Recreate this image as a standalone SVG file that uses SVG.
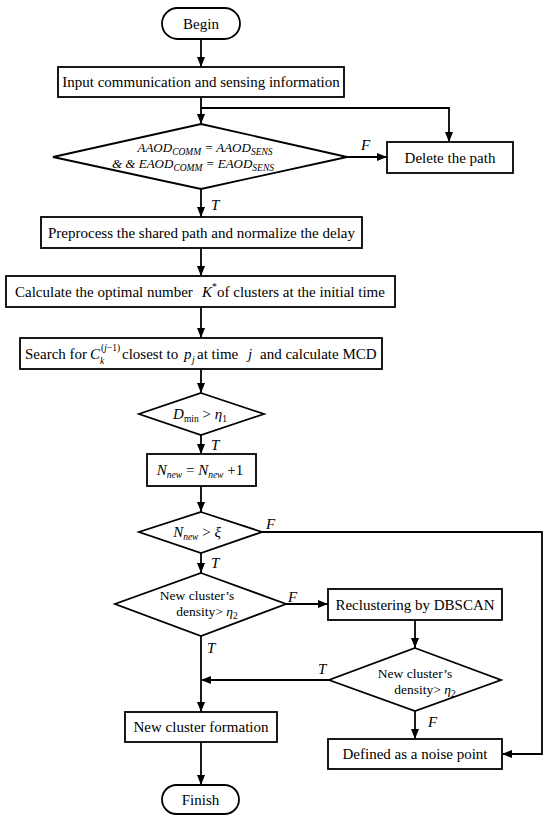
<svg xmlns="http://www.w3.org/2000/svg" width="550" height="825" viewBox="0 0 550 825">
<style>
text{font-family:'Liberation Serif','Times New Roman','DejaVu Serif',serif;font-size:15px;fill:#000}
.d{font-size:13.5px}
.m{font-size:13px}
.i{font-style:italic}
.s{font-size:9.5px}
.box{fill:#fff;stroke:#000;stroke-width:1.8}
.ln{fill:none;stroke:#000;stroke-width:1.8}
</style>
<defs>
<marker id="ah" viewBox="0 0 10 8" refX="10" refY="4" markerWidth="10" markerHeight="8" markerUnits="userSpaceOnUse" orient="auto">
<path d="M0,0 L10,4 L0,8 z" fill="#000"/>
</marker>
</defs>
<rect width="550" height="825" fill="#fff"/>
<g id="connectors">
<path class="ln" d="M201,39 V67" marker-end="url(#ah)"/>
<path class="ln" d="M201,97 V124" marker-end="url(#ah)"/>
<path class="ln" d="M201,108 H449 V142" marker-end="url(#ah)"/>
<path class="ln" d="M347,157 H387" marker-end="url(#ah)"/>
<path class="ln" d="M201,189 V217" marker-end="url(#ah)"/>
<path class="ln" d="M201,248 V276" marker-end="url(#ah)"/>
<path class="ln" d="M201,307 V338" marker-end="url(#ah)"/>
<path class="ln" d="M201,369 V393" marker-end="url(#ah)"/>
<path class="ln" d="M201,435 V454" marker-end="url(#ah)"/>
<path class="ln" d="M201,486 V512" marker-end="url(#ah)"/>
<path class="ln" d="M262,532 H542 V754 H502" marker-end="url(#ah)"/>
<path class="ln" d="M201,553 V573" marker-end="url(#ah)"/>
<path class="ln" d="M286,604 H328" marker-end="url(#ah)"/>
<path class="ln" d="M201,636 V712" marker-end="url(#ah)"/>
<path class="ln" d="M415,620 V648" marker-end="url(#ah)"/>
<path class="ln" d="M329,680 H201" marker-end="url(#ah)"/>
<path class="ln" d="M415,711 V739" marker-end="url(#ah)"/>
<path class="ln" d="M201,742 V785" marker-end="url(#ah)"/>
<text class="i" x="361" y="150">F</text>
<text class="i" x="211" y="210">T</text>
<text class="i" x="211" y="450">T</text>
<text class="i" x="266" y="529">F</text>
<text class="i" x="211" y="568">T</text>
<text class="i" x="288" y="602">F</text>
<text class="i" x="207" y="653">T</text>
<text class="i" x="318" y="674">T</text>
<text class="i" x="428" y="727">F</text>
</g>
<g id="begin">
<rect class="box" x="162" y="8" width="78" height="31" rx="15.5"/>
<text x="201" y="29" text-anchor="middle">Begin</text>
</g>
<g id="input">
<rect class="box" x="58" y="67" width="286" height="30"/>
<text x="201" y="87" text-anchor="middle">Input communication and sensing information</text>
</g>
<g id="check-aod">
<polygon class="box" points="201,124 347,157 201,189 53,157"/>
<text class="m i" x="205" y="152" text-anchor="middle">AAOD<tspan class="s" dy="3">COMM</tspan><tspan dy="-3"> = AAOD</tspan><tspan class="s" dy="3">SENS</tspan></text>
<text class="m i" x="193" y="168" text-anchor="middle">&amp; &amp; EAOD<tspan class="s" dy="3">COMM</tspan><tspan dy="-3"> = EAOD</tspan><tspan class="s" dy="3">SENS</tspan></text>
</g>
<g id="delete">
<rect class="box" x="387" y="142" width="126" height="31"/>
<text x="450" y="163" text-anchor="middle">Delete the path</text>
</g>
<g id="preprocess">
<rect class="box" x="41" y="217" width="321" height="31"/>
<text x="201.5" y="238" text-anchor="middle">Preprocess the shared path and normalize the delay</text>
</g>
<g id="calculate">
<rect class="box" x="6" y="276" width="389" height="31"/>
<text y="297"><tspan x="15">Calculate the optimal number</tspan><tspan class="i" x="202">K</tspan><tspan class="s" x="212" y="290">*</tspan><tspan x="217" y="297">of clusters at the initial time</tspan></text>
</g>
<g id="search">
<rect class="box" x="20" y="338" width="362" height="31"/>
<text y="359"><tspan x="25">Search for</tspan><tspan class="i" x="90">C</tspan><tspan class="s i" x="100" y="364">k</tspan><tspan class="s" x="101" y="351">(<tspan class="i">j</tspan>−1)</tspan><tspan x="122" y="359">closest to</tspan><tspan class="i" x="184">p</tspan><tspan class="s i" x="192" y="363">j</tspan><tspan x="197" y="359">at time</tspan><tspan class="i" x="248">j</tspan><tspan x="260">and calculate MCD</tspan></text>
</g>
<g id="dmin">
<polygon class="box" points="201,393 264,414 201,435 139,414"/>
<text x="200" y="419" text-anchor="middle"><tspan class="i">D</tspan><tspan class="s" dy="3">min</tspan><tspan dy="-3"> &gt; </tspan><tspan class="i">η</tspan><tspan class="s" dy="3">1</tspan></text>
</g>
<g id="nnew-inc">
<rect class="box" x="147" y="454" width="109" height="32"/>
<text x="200" y="475" text-anchor="middle"><tspan class="i">N</tspan><tspan class="s i" dy="3">new</tspan><tspan dy="-3"> = </tspan><tspan class="i">N</tspan><tspan class="s i" dy="3">new</tspan><tspan dy="-3"> +1</tspan></text>
</g>
<g id="nnew-check">
<polygon class="box" points="201,512 262,532 201,553 139,532"/>
<text x="197" y="537" text-anchor="middle"><tspan class="i">N</tspan><tspan class="s i" dy="3">new</tspan><tspan dy="-3"> &gt; </tspan><tspan class="i">ξ</tspan></text>
</g>
<g id="density1">
<polygon class="box" points="201,573 286,604 201,636 115,604"/>
<text class="d" x="197" y="600" text-anchor="middle">New cluster’s</text>
<text class="d" x="207" y="616" text-anchor="middle">density&gt; <tspan class="i">η</tspan><tspan class="s" dy="3">2</tspan></text>
</g>
<g id="recluster">
<rect class="box" x="328" y="589" width="174" height="31"/>
<text x="415" y="610" text-anchor="middle">Reclustering by DBSCAN</text>
</g>
<g id="density2">
<polygon class="box" points="415,648 501,680 415,711 329,680"/>
<text class="d" x="415" y="678" text-anchor="middle">New cluster’s</text>
<text class="d" x="425" y="694" text-anchor="middle">density&gt; <tspan class="i">η</tspan><tspan class="s" dy="3">2</tspan></text>
</g>
<g id="formation">
<rect class="box" x="125" y="712" width="152" height="30"/>
<text x="201" y="732" text-anchor="middle">New cluster formation</text>
</g>
<g id="noise">
<rect class="box" x="328" y="739" width="174" height="30"/>
<text x="415" y="759" text-anchor="middle">Defined as a noise point</text>
</g>
<g id="finish">
<rect class="box" x="162" y="785" width="77" height="29" rx="14.5"/>
<text x="200.5" y="805" text-anchor="middle">Finish</text>
</g>
</svg>
